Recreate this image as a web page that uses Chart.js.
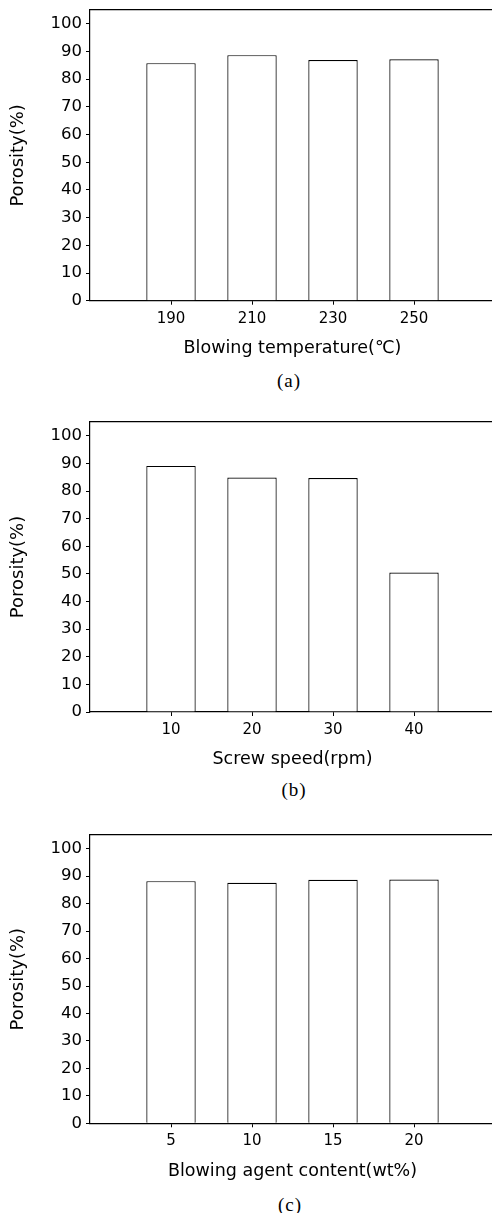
<!DOCTYPE html>
<html>
<head>
<meta charset="utf-8">
<script src="https://cdn.jsdelivr.net/npm/chart.js@4.4.1/dist/chart.umd.min.js"></script>
<style>
  html, body { margin: 0; padding: 0; background: #fff; width: 492px; height: 1213px; overflow: hidden; position: relative; }
  canvas { position: absolute; left: 0; }
  .cap { position: absolute; transform: translate(-50%, -50%); font: 19px "Liberation Serif", serif; letter-spacing: 1px; color: #000; white-space: nowrap; }
</style>
</head>
<body>
<canvas id="chartA" width="500" height="360" style="top:0px"></canvas>
<div class="cap" style="left:289px; top:381px">(a)</div>
<canvas id="chartB" width="500" height="360" style="top:412px"></canvas>
<div class="cap" style="left:294px; top:790px">(b)</div>
<canvas id="chartC" width="500" height="360" style="top:825px"></canvas>
<div class="cap" style="left:290px; top:1205px">(c)</div>

<script>
  // (a) blowing temperature
  const temperatures = [190, 210, 230, 250];
  const porosityByTemp = [85.8, 88.7, 86.9, 87.2];

  // (b) screw speed
  const screwSpeeds = [10, 20, 30, 40];
  const porosityBySpeed = [89.1, 84.9, 84.7, 50.5];

  // (c) blowing agent content
  const agentContents = [5, 10, 15, 20];
  const porosityByAgent = [88.2, 87.6, 88.7, 88.8];

  // y axis tick labels
  const porosityTicks = [0, 10, 20, 30, 40, 50, 60, 70, 80, 90, 100];

  const ink = "#000";
  const font = "'DejaVu Sans', sans-serif";

  Chart.defaults.color = ink;
  Chart.defaults.font.family = font;

  function porosityChart(id, xs, ys, xMin, xMax, xTitle, padBottom) {
    return new Chart(document.getElementById(id), {
      type: "bar",
      data: {
        datasets: [{
          data: xs.map((x, i) => ({ x: x, y: ys[i] })),
          backgroundColor: "#fff",
          borderColor: ink,
          borderWidth: 1.2,
          categoryPercentage: 1,
          barPercentage: 0.61
        }]
      },
      options: {
        responsive: false,
        animation: false,
        devicePixelRatio: 1,
        layout: { padding: { top: 10, left: 0, right: 5, bottom: padBottom } },
        plugins: { legend: { display: false }, tooltip: { enabled: false } },
        scales: {
          x: {
            type: "linear",
            min: xMin, max: xMax,
            offset: false,
            grid: { display: true, drawOnChartArea: false, offset: false, color: ink, tickLength: 4 },
            border: { color: ink, width: 1.2 },
            ticks: { padding: 5, font: { size: 15 } },
            afterBuildTicks: s => { s.ticks = xs.map(v => ({ value: v })); },
            afterFit: s => { s.height = 58.2; s.paddingLeft = 0; s.paddingRight = 0; },
            title: { display: true, text: xTitle, font: { size: 17.5 }, padding: { top: 10, bottom: 0 } }
          },
          x2: {
            type: "linear",
            position: "top",
            display: true,
            grid: { display: false },
            ticks: { display: false },
            border: { display: true, color: ink, width: 1.2 },
            afterFit: s => { s.height = 0; s.paddingLeft = 0; s.paddingRight = 0; }
          },
          y: {
            min: 0, max: 105,
            grid: { display: true, drawOnChartArea: false, color: ink, tickLength: 4 },
            border: { color: ink, width: 1.2 },
            ticks: { padding: 4, font: { size: 16.5 } },
            afterBuildTicks: s => { s.ticks = porosityTicks.map(v => ({ value: v })); },
            afterFit: s => { s.width = 90; s.paddingTop = 0; s.paddingBottom = 0; },
            title: { display: true, text: "Porosity(%)", font: { size: 18 }, padding: { top: 8, bottom: 0 } }
          }
        }
      }
    });
  }

  porosityChart("chartA", temperatures, porosityByTemp, 170, 270, "Blowing temperature(\u2103)", 1.1);
  porosityChart("chartB", screwSpeeds, porosityBySpeed, 0, 50, "Screw speed(rpm)", 1.8);
  porosityChart("chartC", agentContents, porosityByAgent, 0, 25, "Blowing agent content(wt%)", 3.5);
</script>
</body>
</html>
